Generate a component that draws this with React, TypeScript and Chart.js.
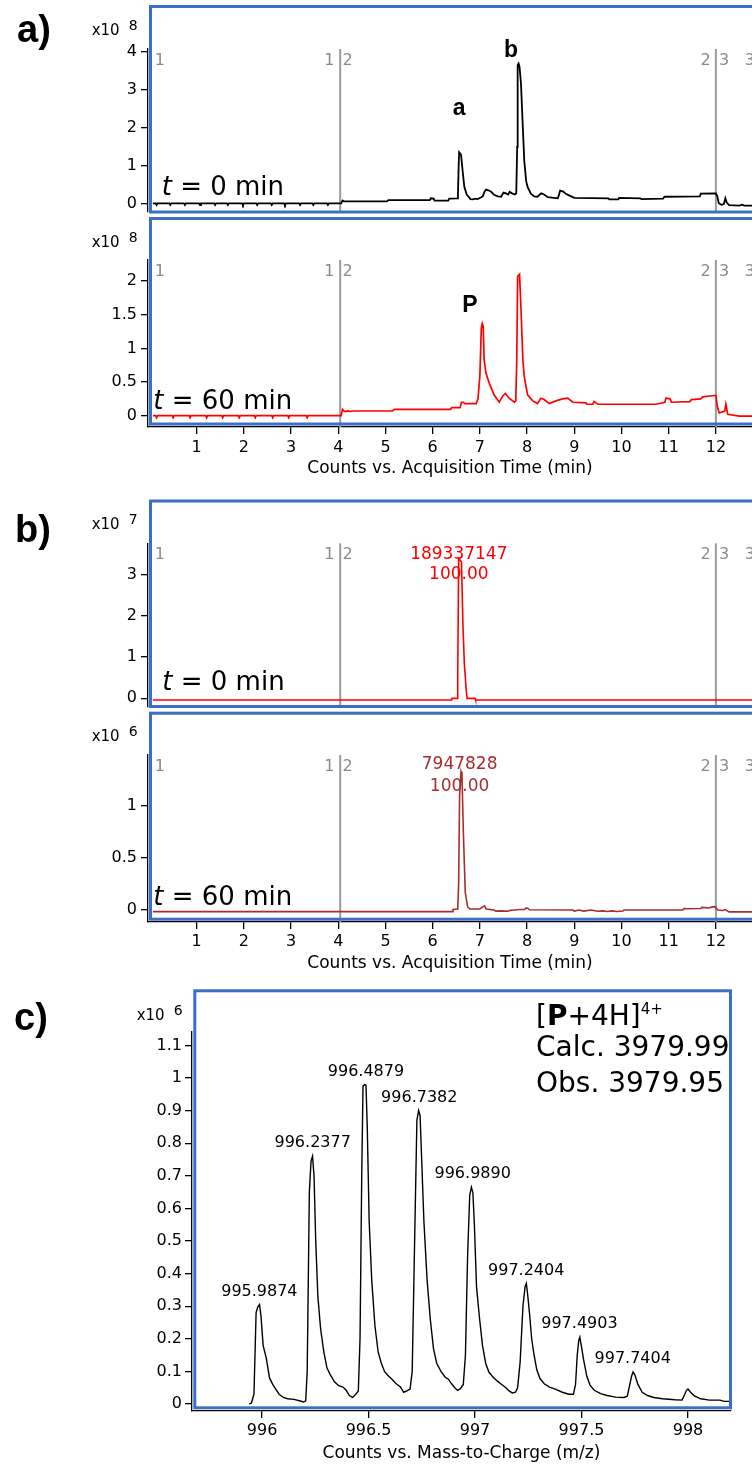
import React, { useEffect, useRef } from 'react';
import { Chart, registerables } from 'chart.js';

Chart.register(...registerables);

const SANS = "'DejaVu Sans', 'Liberation Sans', sans-serif";
const ARIAL = "'Liberation Sans', Arial, sans-serif";
const BLUE = '#3b6fc7';
const GREY_LINE = '#9a9a9a';
const GREY_TEXT = '#8a8a8a';
const RED = '#ff0000';
const DARK_RED = '#ab2c2c';

type Pt = [number, number];
type Label = [number, number, string];

// ---------- shared time axis (panels a and b) ----------
const timeMin = -0.032;
const timeMax = 12.765;
const timeTicks = [1, 2, 3, 4, 5, 6, 7, 8, 9, 10, 11, 12];
const timeTitle = 'Counts vs. Acquisition Time (min)';
const segmentBreaks = [4.04, 12.0];
const segmentLabelTimes = [0.11, 3.92, 4.09, 11.89, 12.065, 12.61];
const segmentLabelTexts = ['1', '1', '2', '2', '3', '3'];
const segmentLabelAlign = ['left', 'right', 'left', 'right', 'left', 'left'];

// ---------- a) total ion chromatograms ----------
const a1Ticks = [0, 1, 2, 3, 4];
const a1Trace: Pt[] = [
  [0.07, 0.018], [0.13, 0.018], [0.15, -0.026], [0.17, 0.018],
  [0.42, 0.018], [0.44, -0.026], [0.46, 0.018],
  [0.73, 0.018], [0.75, -0.026], [0.77, 0.018],
  [1.05, 0.018], [1.07, -0.026], [1.09, 0.018],
  [1.37, 0.018], [1.39, -0.026], [1.41, 0.018],
  [1.64, 0.018], [1.66, -0.026], [1.68, 0.018],
  [1.96, 0.018], [1.98, -0.026], [2.0, 0.018],
  [2.26, 0.018], [2.28, -0.026], [2.3, 0.018],
  [2.57, 0.018], [2.59, -0.026], [2.61, 0.018],
  [2.85, 0.018], [2.87, -0.026], [2.89, 0.018],
  [3.17, 0.018], [3.19, -0.026], [3.21, 0.018],
  [3.45, 0.018], [3.47, -0.026], [3.49, 0.018],
  [3.76, 0.018], [3.78, -0.026], [3.8, 0.018],
  [4.06, 0.018], [4.09, 0.09], [4.12, 0.07], [5.03, 0.07], [5.06, 0.1], [5.94, 0.1],
  [5.96, 0.15], [6.02, 0.14], [6.04, 0.09], [6.33, 0.09], [6.35, 0.14], [6.52, 0.15],
  [6.535, 0.25], [6.55, 1.0], [6.56, 1.36], [6.6, 1.3], [6.64, 0.8], [6.67, 0.45],
  [6.72, 0.25], [6.76, 0.19], [6.8, 0.13], [6.85, 0.12], [6.9, 0.14], [6.95, 0.13],
  [7.02, 0.17], [7.06, 0.2], [7.1, 0.33], [7.13, 0.38], [7.18, 0.36], [7.24, 0.32],
  [7.3, 0.24], [7.38, 0.2], [7.45, 0.19], [7.5, 0.3], [7.55, 0.28], [7.6, 0.25],
  [7.63, 0.32], [7.68, 0.28], [7.74, 0.25], [7.77, 0.28], [7.79, 1.5], [7.8, 3.65],
  [7.82, 3.69], [7.84, 3.6], [7.87, 3.17], [7.91, 2.0], [7.94, 1.14], [7.98, 0.6],
  [8.01, 0.45], [8.08, 0.27], [8.15, 0.2], [8.22, 0.19], [8.3, 0.28], [8.36, 0.25],
  [8.44, 0.18], [8.65, 0.15], [8.67, 0.22], [8.7, 0.35], [8.76, 0.33], [8.82, 0.27],
  [8.9, 0.22], [9.0, 0.16], [9.72, 0.15], [9.74, 0.12], [9.93, 0.12], [9.95, 0.16],
  [10.4, 0.15], [10.42, 0.13], [10.88, 0.14], [10.91, 0.19], [11.66, 0.2], [11.68, 0.27],
  [12.0, 0.28], [12.03, 0.2], [12.06, 0.02], [12.12, -0.02], [12.17, 0.0], [12.2, 0.15],
  [12.23, 0.04], [12.28, -0.03], [12.5, -0.04], [12.55, -0.02], [12.6, -0.04], [12.77, -0.04],
];
const a1PeakLabels: Label[] = [[6.56, 2.34, 'a'], [7.66, 3.85, 'b']];

const a2Ticks = [0, 0.5, 1, 1.5, 2];
const a2Trace: Pt[] = [
  [0.07, 0.0], [0.13, 0.0], [0.15, -0.03], [0.17, 0.0],
  [0.48, 0.0], [0.5, -0.03], [0.52, 0.0],
  [0.84, 0.0], [0.86, -0.03], [0.88, 0.0],
  [1.19, 0.0], [1.21, -0.03], [1.23, 0.0],
  [1.53, 0.0], [1.55, -0.03], [1.57, 0.0],
  [1.88, 0.0], [1.9, -0.03], [1.92, 0.0],
  [2.22, 0.0], [2.24, -0.03], [2.26, 0.0],
  [2.59, 0.0], [2.61, -0.03], [2.63, 0.0],
  [2.93, 0.0], [2.95, -0.03], [2.97, 0.0],
  [3.32, 0.0], [3.34, -0.03], [3.36, 0.0],
  [4.06, 0.0], [4.09, 0.095], [4.12, 0.07], [4.15, 0.06], [4.19, 0.07], [4.25, 0.065],
  [4.3, 0.07], [5.15, 0.07], [5.19, 0.095], [6.38, 0.095], [6.4, 0.12], [6.58, 0.12],
  [6.61, 0.2], [6.65, 0.2], [6.68, 0.18], [6.92, 0.18], [6.96, 0.25], [7.0, 0.6],
  [7.03, 1.3], [7.05, 1.37], [7.07, 1.33], [7.09, 0.83], [7.13, 0.63], [7.2, 0.48],
  [7.3, 0.31], [7.41, 0.2], [7.48, 0.29], [7.54, 0.33], [7.62, 0.26], [7.73, 0.2],
  [7.76, 0.22], [7.78, 0.8], [7.8, 2.07], [7.84, 2.1], [7.87, 1.6], [7.91, 0.83],
  [7.94, 0.58], [8.01, 0.31], [8.12, 0.22], [8.22, 0.18], [8.29, 0.26], [8.36, 0.24],
  [8.47, 0.18], [8.61, 0.22], [8.75, 0.25], [8.86, 0.26], [8.97, 0.2], [9.25, 0.19],
  [9.27, 0.17], [9.39, 0.17], [9.42, 0.21], [9.46, 0.19], [9.5, 0.17], [10.73, 0.17],
  [10.92, 0.2], [10.94, 0.26], [11.03, 0.25], [11.06, 0.2], [11.45, 0.21], [11.48, 0.24],
  [11.68, 0.25], [11.72, 0.28], [11.97, 0.3], [12.0, 0.3], [12.03, 0.135], [12.07, 0.04],
  [12.15, 0.06], [12.19, 0.07], [12.21, 0.17], [12.23, 0.1], [12.25, 0.02], [12.5, -0.005],
  [12.77, -0.005],
];
const a2PeakLabels: Label[] = [[6.79, 1.545, 'P']];

// ---------- b) extracted ion chromatograms ----------
const b1Ticks = [0, 1, 2, 3];
const b1Trace: Pt[] = [
  [0.07, -0.04], [6.4, -0.04], [6.41, 0.0], [6.52, 0.0], [6.53, 0.5], [6.55, 3.39],
  [6.58, 3.35], [6.61, 3.3], [6.64, 1.8], [6.67, 0.85], [6.71, 0.2], [6.73, 0.0],
  [6.9, 0.0], [6.91, -0.04], [12.77, -0.04],
];
const b1PeakLabels: Label[] = [[6.553, 3.49, '189337147'], [6.553, 2.99, '100.00']];

const b2Ticks = [0, 0.5, 1];
const b2Trace: Pt[] = [
  [0.07, -0.015], [6.42, -0.015], [6.43, 0.005], [6.53, 0.01], [6.55, 0.25], [6.57, 1.1],
  [6.6, 1.33], [6.62, 1.3], [6.65, 0.74], [6.69, 0.17], [6.74, 0.03], [6.79, 0.01],
  [7.0, 0.01], [7.06, 0.03], [7.1, 0.04], [7.13, 0.01], [7.3, 0.0], [7.34, -0.01],
  [7.45, -0.008], [7.6, -0.012], [7.62, -0.005], [7.84, 0.005], [7.95, 0.005], [7.98, 0.02],
  [8.02, 0.015], [8.05, 0.002], [8.97, 0.0], [9.0, -0.01], [9.1, 0.0], [9.2, -0.01],
  [9.35, 0.0], [9.5, -0.012], [9.6, -0.008], [9.7, -0.014], [9.8, -0.008], [9.9, -0.014],
  [10.03, -0.01], [10.05, 0.0], [11.3, 0.0], [11.33, 0.015], [11.37, 0.012], [11.68, 0.015],
  [11.7, 0.025], [11.85, 0.02], [11.93, 0.03], [11.98, 0.032], [12.04, 0.0], [12.14, -0.005],
  [12.2, 0.005], [12.28, -0.018], [12.77, -0.018],
];
const b2PeakLabels: Label[] = [[6.57, 1.394, '7947828'], [6.57, 1.19, '100.00']];

// ---------- c) mass spectrum ----------
const mzMin = 995.671;
const mzMax = 998.202;
const mzTicks = [996, 996.5, 997, 997.5, 998];
const mzTitle = 'Counts vs. Mass-to-Charge (m/z)';
const cTicks = [0, 0.1, 0.2, 0.3, 0.4, 0.5, 0.6, 0.7, 0.8, 0.9, 1, 1.1];
const cTrace: Pt[] = [
  [995.94, 0.0], [995.95, 0.003], [995.962, 0.03], [995.972, 0.28], [995.98, 0.298],
  [995.988, 0.305], [995.995, 0.27], [996.005, 0.18], [996.02, 0.14], [996.035, 0.08],
  [996.05, 0.06], [996.065, 0.045], [996.08, 0.03], [996.1, 0.02], [996.12, 0.016],
  [996.15, 0.014], [996.175, 0.01], [996.195, 0.006], [996.205, 0.01], [996.212, 0.1],
  [996.222, 0.65], [996.23, 0.745], [996.237, 0.76], [996.244, 0.7], [996.252, 0.5],
  [996.262, 0.33], [996.275, 0.23], [996.29, 0.16], [996.305, 0.11], [996.32, 0.09],
  [996.34, 0.068], [996.36, 0.056], [996.38, 0.052], [996.395, 0.042], [996.41, 0.026],
  [996.425, 0.02], [996.438, 0.028], [996.452, 0.04], [996.46, 0.2],
  [996.468, 0.7], [996.474, 0.975], [996.482, 0.98], [996.488, 0.978], [996.494, 0.85],
  [996.503, 0.56], [996.515, 0.38], [996.53, 0.24], [996.545, 0.16], [996.56, 0.125],
  [996.575, 0.1], [996.59, 0.088], [996.61, 0.076], [996.63, 0.062], [996.65, 0.052],
  [996.665, 0.036], [996.68, 0.04], [996.695, 0.046], [996.705, 0.1],
  [996.715, 0.45], [996.727, 0.87], [996.735, 0.9], [996.742, 0.885], [996.75, 0.74],
  [996.76, 0.56], [996.775, 0.38], [996.79, 0.26], [996.805, 0.17], [996.82, 0.125],
  [996.84, 0.1], [996.86, 0.082], [996.875, 0.076], [996.89, 0.062], [996.905, 0.05],
  [996.918, 0.042], [996.93, 0.046], [996.945, 0.06], [996.955, 0.15],
  [996.965, 0.45], [996.975, 0.64], [996.983, 0.665], [996.99, 0.648], [996.997, 0.55],
  [997.007, 0.36], [997.02, 0.27], [997.035, 0.18], [997.05, 0.125], [997.065, 0.098],
  [997.085, 0.082], [997.105, 0.07], [997.125, 0.06], [997.145, 0.05], [997.16, 0.04],
  [997.175, 0.034], [997.19, 0.036], [997.2, 0.05], [997.212, 0.13],
  [997.225, 0.3], [997.235, 0.36], [997.241, 0.37], [997.248, 0.33], [997.257, 0.27],
  [997.266, 0.2], [997.276, 0.155], [997.29, 0.105], [997.305, 0.078], [997.325, 0.062],
  [997.35, 0.052], [997.38, 0.045], [997.41, 0.036], [997.44, 0.03], [997.462, 0.03],
  [997.472, 0.06], [997.48, 0.15], [997.487, 0.195], [997.492, 0.205], [997.5, 0.175],
  [997.51, 0.135], [997.525, 0.085], [997.54, 0.058], [997.56, 0.042], [997.59, 0.032],
  [997.62, 0.026], [997.66, 0.021], [997.7, 0.02], [997.715, 0.024], [997.727, 0.06],
  [997.735, 0.085], [997.742, 0.098], [997.75, 0.09], [997.765, 0.06], [997.785, 0.036],
  [997.81, 0.026], [997.84, 0.02], [997.88, 0.016], [997.94, 0.013], [997.972, 0.012],
  [997.985, 0.03], [997.993, 0.042], [998.0, 0.046], [998.012, 0.036], [998.03, 0.025],
  [998.06, 0.016], [998.1, 0.012], [998.15, 0.012], [998.17, 0.008], [998.195, 0.008],
  [998.21, 0.012],
];
const cPeakMz = [995.9874, 996.2377, 996.4879, 996.7382, 996.989, 997.2404, 997.4903, 997.7404];
const cPeakTop = [0.305, 0.76, 0.98, 0.9, 0.665, 0.37, 0.205, 0.098];
const cPeakLabels: Label[] = cPeakMz.map((m, i) => [m, cPeakTop[i], m.toFixed(4)]);

// ---------- layout ----------
interface PanelSpec {
  top: number;
  height: number;
  area: { left: number; right: number; top: number; bottom: number };
  xMin: number;
  xMax: number;
  xTicks: number[] | null;
  xTitle: string;
  xTickPad: number;
  xTitlePad: number;
  yMin: number;
  yMax: number;
  yTicks: number[];
  yTickPad: number;
  trace: Pt[];
  color: string;
  lineWidth: number;
  box: [number, number, number, number];
  exponent: [number, number, string];
  letter: [number, number, string] | null;
  timeLabel: [number, number, string] | null;
  segments: boolean;
  peakLabels: Label[];
  peakFont: string;
  peakColor: string;
  peakBaseline: string;
  peakDy: number;
  extra?: (ctx: CanvasRenderingContext2D, top: number) => void;
}

type Run = { t: string; f: string; dy?: number };
function drawRuns(ctx: CanvasRenderingContext2D, x: number, y: number, runs: Run[]) {
  ctx.textAlign = 'left';
  ctx.textBaseline = 'alphabetic';
  let cx = x;
  for (const r of runs) {
    ctx.font = r.f;
    ctx.fillText(r.t, cx, y + (r.dy || 0));
    cx += ctx.measureText(r.t).width;
  }
}

const panels: PanelSpec[] = [
  {
    top: 0, height: 216,
    area: { left: 148, right: 752, top: 49, bottom: 212 },
    xMin: timeMin, xMax: timeMax, xTicks: null, xTitle: '', xTickPad: 3, xTitlePad: 2,
    yMin: -0.21, yMax: 4.07, yTicks: a1Ticks, yTickPad: 4,
    trace: a1Trace, color: '#000000', lineWidth: 1.8,
    box: [150.5, 6.5, 790, 212],
    exponent: [91.7, 35, '8'],
    letter: [17, 42, 'a)'],
    timeLabel: [161.7, 195, '0'],
    segments: true,
    peakLabels: a1PeakLabels, peakFont: `bold 23px ${ARIAL}`, peakColor: '#000', peakBaseline: 'alphabetic', peakDy: 0,
  },
  {
    top: 216, height: 264,
    area: { left: 148, right: 752, top: 260, bottom: 427 },
    xMin: timeMin, xMax: timeMax, xTicks: timeTicks, xTitle: timeTitle, xTickPad: 4, xTitlePad: 1.5,
    yMin: -0.168, yMax: 2.3135, yTicks: a2Ticks, yTickPad: 4,
    trace: a2Trace, color: RED, lineWidth: 1.7,
    box: [150.5, 218.5, 790, 424],
    exponent: [91.7, 246.5, '8'],
    letter: null,
    timeLabel: [153.3, 409, '60'],
    segments: true,
    peakLabels: a2PeakLabels, peakFont: `bold 23px ${ARIAL}`, peakColor: '#000', peakBaseline: 'alphabetic', peakDy: 0,
  },
  {
    top: 490, height: 220,
    area: { left: 148, right: 752, top: 543.3, bottom: 707 },
    xMin: timeMin, xMax: timeMax, xTicks: null, xTitle: '', xTickPad: 3, xTitlePad: 2,
    yMin: -0.21, yMax: 3.753, yTicks: b1Ticks, yTickPad: 4,
    trace: b1Trace, color: RED, lineWidth: 1.6,
    box: [150.5, 501, 790, 706.5],
    exponent: [91.7, 529, '7'],
    letter: [15, 542, 'b)'],
    timeLabel: [162.3, 690, '0'],
    segments: true,
    peakLabels: b1PeakLabels, peakFont: `17px ${SANS}`, peakColor: RED, peakBaseline: 'middle', peakDy: 0,
  },
  {
    top: 710, height: 265,
    area: { left: 148, right: 752, top: 755, bottom: 922 },
    xMin: timeMin, xMax: timeMax, xTicks: timeTicks, xTitle: timeTitle, xTickPad: 3, xTitlePad: 1,
    yMin: -0.115, yMax: 1.49, yTicks: b2Ticks, yTickPad: 4,
    trace: b2Trace, color: DARK_RED, lineWidth: 1.6,
    box: [150.5, 713.2, 790, 919.2],
    exponent: [91.7, 741, '6'],
    letter: null,
    timeLabel: [153.3, 905, '60'],
    segments: true,
    peakLabels: b2PeakLabels, peakFont: `17px ${SANS}`, peakColor: DARK_RED, peakBaseline: 'middle', peakDy: 0,
  },
  {
    top: 975, height: 489,
    area: { left: 192, right: 731, top: 1031.7, bottom: 1411 },
    xMin: mzMin, xMax: mzMax, xTicks: mzTicks, xTitle: mzTitle, xTickPad: 3, xTitlePad: 0.5,
    yMin: -0.0215, yMax: 1.142, yTicks: cTicks, yTickPad: 3,
    trace: cTrace, color: '#000000', lineWidth: 1.4,
    box: [194.8, 990.8, 730.5, 1407.8],
    exponent: [136.7, 1020, '6'],
    letter: [14, 1030, 'c)'],
    timeLabel: null,
    segments: false,
    peakLabels: cPeakLabels, peakFont: `16px ${SANS}`, peakColor: '#000', peakBaseline: 'middle', peakDy: -13,
    extra: (ctx, top) => {
      ctx.fillStyle = '#000';
      drawRuns(ctx, 536, 1025 - top, [
        { t: '[', f: `28px ${SANS}` },
        { t: 'P', f: `bold 28px ${SANS}` },
        { t: '+4H]', f: `28px ${SANS}` },
        { t: '4+', f: `15px ${SANS}`, dy: -11 },
      ]);
      drawRuns(ctx, 536, 1056 - top, [{ t: 'Calc. 3979.99', f: `28px ${SANS}` }]);
      drawRuns(ctx, 536, 1092 - top, [{ t: 'Obs. 3979.95', f: `28px ${SANS}` }]);
    },
  },
];

function buildChart(canvas: HTMLCanvasElement, s: PanelSpec) {
  const W = 752;
  const hasX = !!s.xTicks;
  const bottomBand = s.top + s.height - s.area.bottom;
  const tickFont = { family: SANS, size: 16 };

  const decor = {
    id: 'decor',
    beforeDatasetsDraw(chart: any) {
      if (!s.segments) return;
      const { ctx, chartArea } = chart;
      const xs = chart.scales.x;
      ctx.save();
      ctx.strokeStyle = GREY_LINE;
      ctx.lineWidth = 2;
      segmentBreaks.forEach((b) => {
        const px = xs.getPixelForValue(b);
        ctx.beginPath();
        ctx.moveTo(px, chartArea.top);
        ctx.lineTo(px, chartArea.bottom);
        ctx.stroke();
      });
      ctx.font = `16px ${SANS}`;
      ctx.fillStyle = GREY_TEXT;
      ctx.textBaseline = 'middle';
      segmentLabelTimes.forEach((t, i) => {
        ctx.textAlign = segmentLabelAlign[i] as CanvasTextAlign;
        ctx.fillText(segmentLabelTexts[i], xs.getPixelForValue(t), chartArea.top + 12);
      });
      ctx.restore();
    },
    afterDatasetsDraw(chart: any) {
      const { ctx } = chart;
      const xs = chart.scales.x;
      const ys = chart.scales.y;
      const T = s.top;
      ctx.save();
      // peak annotations, anchored to data coordinates
      ctx.font = s.peakFont;
      ctx.fillStyle = s.peakColor;
      ctx.textAlign = 'center';
      ctx.textBaseline = s.peakBaseline as CanvasTextBaseline;
      s.peakLabels.forEach(([x, y, text]) => {
        ctx.fillText(text, xs.getPixelForValue(x), ys.getPixelForValue(y) + s.peakDy);
      });
      // blue frame
      ctx.strokeStyle = BLUE;
      ctx.lineWidth = 3;
      const [l, t, r, b] = s.box;
      ctx.strokeRect(l, t - T, r - l, b - t);
      // axis multiplier
      ctx.fillStyle = '#000';
      const [ex, ey, pow] = s.exponent;
      drawRuns(ctx, ex, ey - T, [{ t: 'x10', f: `15px ${SANS}` }]);
      drawRuns(ctx, ex + 37, ey - T - 5, [{ t: pow, f: `14px ${SANS}` }]);
      // panel letter
      if (s.letter) {
        const [lx, ly, lt] = s.letter;
        drawRuns(ctx, lx, ly - T, [{ t: lt, f: `bold 38px ${ARIAL}` }]);
      }
      // time label
      if (s.timeLabel) {
        const [tx, ty, tv] = s.timeLabel;
        drawRuns(ctx, tx, ty - T, [
          { t: 't', f: `italic 26px ${SANS}` },
          { t: ` = ${tv} min`, f: `26px ${SANS}` },
        ]);
      }
      if (s.extra) s.extra(ctx, T);
      ctx.restore();
    },
  };

  const xScale: any = {
    type: 'linear',
    min: s.xMin,
    max: s.xMax,
    display: hasX,
    position: 'bottom',
    afterBuildTicks: (axis: any) => {
      axis.ticks = (s.xTicks || []).map((v) => ({ value: v }));
    },
    grid: { display: true, drawOnChartArea: false, drawTicks: true, tickLength: 7, color: '#000', lineWidth: 1.3 },
    border: { display: true, color: '#000', width: 1.3 },
    ticks: {
      autoSkip: false,
      maxRotation: 0,
      minRotation: 0,
      padding: s.xTickPad,
      color: '#000',
      font: tickFont,
      callback: (v: number) => String(v),
    },
    title: {
      display: hasX,
      text: s.xTitle,
      color: '#000',
      font: { family: SANS, size: 17, lineHeight: 1.2 },
      padding: { top: 0, bottom: s.xTitlePad },
    },
  };
  if (hasX) {
    xScale.afterFit = (axis: any) => {
      axis.height = bottomBand;
      axis.paddingLeft = 0;
      axis.paddingRight = 0;
    };
  }

  return new Chart(canvas, {
    type: 'line',
    data: {
      datasets: [
        {
          data: s.trace.map(([x, y]) => ({ x, y })),
          borderColor: s.color,
          backgroundColor: s.color,
          borderWidth: s.lineWidth,
          pointRadius: 0,
          tension: 0,
          fill: false,
        },
      ],
    },
    options: {
      responsive: false,
      animation: false,
      devicePixelRatio: 1,
      events: [],
      layout: {
        padding: {
          left: 0,
          right: W - s.area.right,
          top: s.area.top - s.top,
          bottom: hasX ? 0 : bottomBand,
        },
      },
      plugins: {
        legend: { display: false },
        tooltip: { enabled: false },
        title: { display: false },
      },
      scales: {
        x: xScale,
        y: {
          type: 'linear',
          min: s.yMin,
          max: s.yMax,
          position: 'left',
          afterBuildTicks: (axis: any) => {
            axis.ticks = s.yTicks.map((v) => ({ value: v }));
          },
          afterFit: (axis: any) => {
            axis.width = s.area.left;
            axis.paddingTop = 0;
            axis.paddingBottom = 0;
          },
          grid: { display: true, drawOnChartArea: false, drawTicks: true, tickLength: 7, color: '#000', lineWidth: 1.3 },
          border: { display: true, color: '#000', width: 1.3 },
          ticks: {
            autoSkip: false,
            padding: s.yTickPad,
            color: '#000',
            font: tickFont,
            callback: (v: number) => String(v),
          },
        },
      },
    } as any,
    plugins: [decor as any],
  });
}

function Panel({ spec }: { spec: PanelSpec }) {
  const ref = useRef<HTMLCanvasElement>(null);
  useEffect(() => {
    if (!ref.current) return;
    const chart = buildChart(ref.current, spec);
    return () => chart.destroy();
  }, [spec]);
  return (
    <canvas
      ref={ref}
      width={752}
      height={spec.height}
      style={{ position: 'absolute', left: 0, top: spec.top, width: 752, height: spec.height }}
    />
  );
}

export default function App() {
  return (
    <div
      style={{
        position: 'absolute',
        left: 0,
        top: 0,
        width: 752,
        height: 1464,
        overflow: 'hidden',
        background: '#ffffff',
      }}
    >
      {panels.map((p, i) => (
        <Panel key={i} spec={p} />
      ))}
    </div>
  );
}
